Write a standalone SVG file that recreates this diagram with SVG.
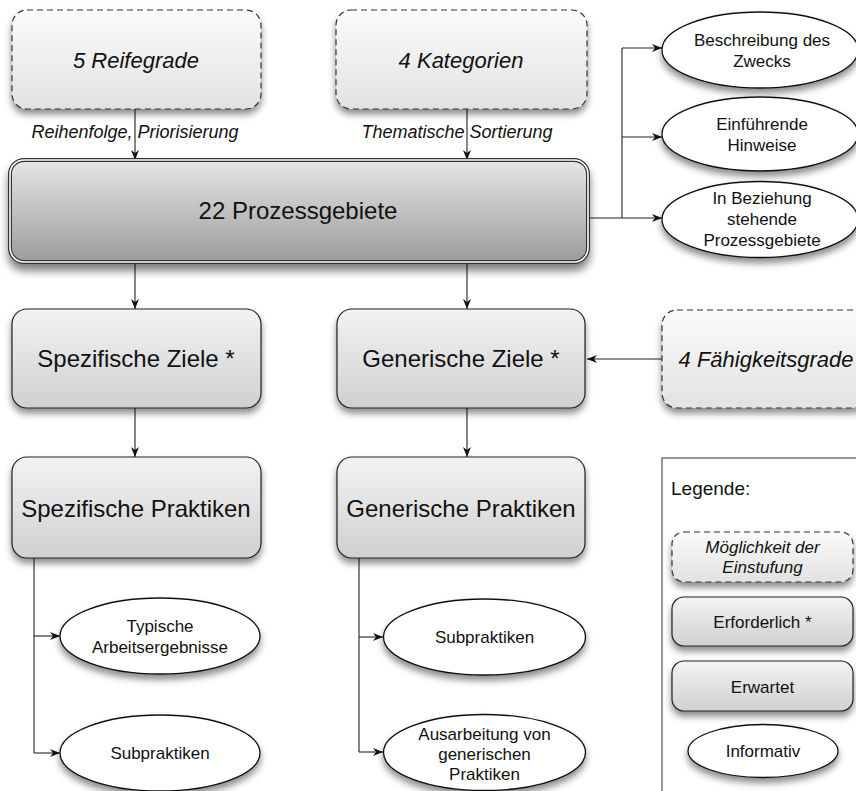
<svg xmlns="http://www.w3.org/2000/svg" width="856" height="791" viewBox="0 0 856 791">
<defs>
<linearGradient id="gBox" x1="0" y1="0" x2="0" y2="1"><stop offset="0" stop-color="#f3f3f3"/><stop offset="1" stop-color="#d0d0d0"/></linearGradient>
<linearGradient id="gDash" x1="0" y1="0" x2="0" y2="1"><stop offset="0" stop-color="#fbfbfb"/><stop offset="1" stop-color="#e2e2e2"/></linearGradient>
<linearGradient id="gBig" x1="0" y1="0" x2="0" y2="1"><stop offset="0" stop-color="#e6e6e6"/><stop offset="1" stop-color="#9c9c9c"/></linearGradient>
<filter id="sh" x="-10%" y="-20%" width="120%" height="150%"><feDropShadow dx="0" dy="5" stdDeviation="3.5" flood-color="#000" flood-opacity="0.45"/></filter>
<filter id="shB" x="-10%" y="-20%" width="120%" height="150%"><feDropShadow dx="0" dy="7" stdDeviation="4.5" flood-color="#000" flood-opacity="0.5"/></filter>
<marker id="ah" viewBox="0 0 10 8" refX="10" refY="4" markerWidth="10" markerHeight="8" markerUnits="userSpaceOnUse" orient="auto"><path d="M0,0 L10,4 L0,8 L3,4 z" fill="#111"/></marker>
</defs>
<style>
.box{fill:url(#gBox);stroke:#222;stroke-width:1.2;filter:url(#sh)}
.dash{fill:url(#gDash);stroke:#333;stroke-width:1.2;stroke-dasharray:6 4;filter:url(#sh)}
.ell{fill:#fff;stroke:#111;stroke-width:1.3;filter:url(#sh)}
.t{font-family:"Liberation Sans",Arial,sans-serif;fill:#111;text-anchor:middle}
.big{font-size:24px}
.it{font-style:italic}
.s22{font-size:22px}
.s18{font-size:18px}
.s17{font-size:17px}
.c{fill:none;stroke:#222;stroke-width:1.1}
.ca{fill:none;stroke:#222;stroke-width:1.1;marker-end:url(#ah)}
</style>
<rect x="0" y="0" width="856" height="791" fill="#fff"/>

<g id="connectors">
<path class="ca" d="M135,109 V160"/>
<path class="ca" d="M467,109 V160"/>
<path class="ca" d="M135,262 V309"/>
<path class="ca" d="M467,262 V309"/>
<path class="ca" d="M135,408 V457"/>
<path class="ca" d="M467,408 V457"/>
<path class="ca" d="M662,359 H587"/>
<path class="c" d="M588,218 H622 M622,48 V218"/>
<path class="ca" d="M622,48 H662"/>
<path class="ca" d="M622,137 H662"/>
<path class="ca" d="M622,218 H662"/>
<path class="c" d="M34,558 V753"/>
<path class="ca" d="M34,636 H60"/>
<path class="ca" d="M34,753 H60"/>
<path class="c" d="M359,558 V752"/>
<path class="ca" d="M359,637 H383"/>
<path class="ca" d="M359,752 H383"/>
<text class="t it s18" x="135" y="138">Reihenfolge, Priorisierung</text>
<text class="t it s18" x="457" y="138">Thematische Sortierung</text>
</g>

<g id="reifegrade">
<rect class="dash" x="12" y="10" width="249" height="99" rx="15"/>
<text class="t it s22" x="136" y="68">5 Reifegrade</text>
</g>
<g id="kategorien">
<rect class="dash" x="336" y="10" width="251" height="99" rx="15"/>
<text class="t it s22" x="461" y="68">4 Kategorien</text>
</g>
<g id="prozessgebiete">
<rect x="10" y="160" width="578" height="102" rx="14" fill="url(#gBig)" stroke="#333" stroke-width="4" filter="url(#shB)"/>
<rect x="10" y="160" width="578" height="102" rx="14" fill="none" stroke="#fff" stroke-width="1.6"/>
<text class="t big" x="298" y="219">22 Prozessgebiete</text>
</g>
<g id="zweck">
<ellipse class="ell" cx="760" cy="50" rx="98" ry="38"/>
<text class="t s17" x="762" y="46">Beschreibung des</text>
<text class="t s17" x="762" y="67">Zwecks</text>
</g>
<g id="hinweise">
<ellipse class="ell" cx="760" cy="134" rx="98" ry="37"/>
<text class="t s17" x="762" y="130">Einführende</text>
<text class="t s17" x="762" y="151">Hinweise</text>
</g>
<g id="beziehung">
<ellipse class="ell" cx="760" cy="219.5" rx="98" ry="38"/>
<text class="t s17" x="762" y="204">In Beziehung</text>
<text class="t s17" x="762" y="225">stehende</text>
<text class="t s17" x="762" y="246">Prozessgebiete</text>
</g>
<g id="spez-ziele">
<rect class="box" x="12" y="309" width="249" height="99" rx="15"/>
<text class="t big" x="136" y="367">Spezifische Ziele *</text>
</g>
<g id="gen-ziele">
<rect class="box" x="337" y="309" width="248" height="99" rx="15"/>
<text class="t big" x="461" y="367">Generische Ziele *</text>
</g>
<g id="faehigkeitsgrade">
<rect class="dash" x="662" y="310" width="205" height="98" rx="15"/>
<text class="t it s22" x="766" y="367">4 Fähigkeitsgrade</text>
</g>
<g id="spez-praktiken">
<rect class="box" x="12" y="457" width="249" height="101" rx="15"/>
<text class="t big" x="136" y="517">Spezifische Praktiken</text>
</g>
<g id="gen-praktiken">
<rect class="box" x="337" y="457" width="248" height="101" rx="15"/>
<text class="t big" x="461" y="517">Generische Praktiken</text>
</g>
<g id="arbeitsergebnisse">
<ellipse class="ell" cx="160" cy="636" rx="100" ry="38"/>
<text class="t s17" x="160" y="632">Typische</text>
<text class="t s17" x="160" y="653">Arbeitsergebnisse</text>
</g>
<g id="spez-sub">
<ellipse class="ell" cx="160" cy="753" rx="100" ry="38"/>
<text class="t s17" x="160" y="759">Subpraktiken</text>
</g>
<g id="gen-sub">
<ellipse class="ell" cx="484.5" cy="637" rx="101" ry="38"/>
<text class="t s17" x="484.5" y="643">Subpraktiken</text>
</g>
<g id="ausarbeitung">
<ellipse class="ell" cx="484.5" cy="752.5" rx="101" ry="38"/>
<text class="t s17" x="484.5" y="740">Ausarbeitung von</text>
<text class="t s17" x="484.5" y="760">generischen</text>
<text class="t s17" x="484.5" y="780">Praktiken</text>
</g>
<g id="legende">
<rect x="662" y="458" width="220" height="345" fill="#fff" stroke="#444" stroke-width="1.1"/>
<text class="t" style="text-anchor:start;font-size:19px" x="671" y="495">Legende:</text>
<rect class="dash" x="672" y="532" width="181" height="50" rx="12"/>
<text class="t it s17" x="762.5" y="553">Möglichkeit der</text>
<text class="t it s17" x="762.5" y="573">Einstufung</text>
<rect class="box" x="672" y="597" width="181" height="49" rx="12"/>
<text class="t s17" x="762.5" y="628">Erforderlich *</text>
<rect class="box" x="672" y="661" width="181" height="50" rx="12"/>
<text class="t s17" x="762.5" y="693">Erwartet</text>
<ellipse class="ell" cx="763" cy="751" rx="75" ry="26.5"/>
<text class="t s17" x="763" y="757">Informativ</text>
</g>
</svg>
